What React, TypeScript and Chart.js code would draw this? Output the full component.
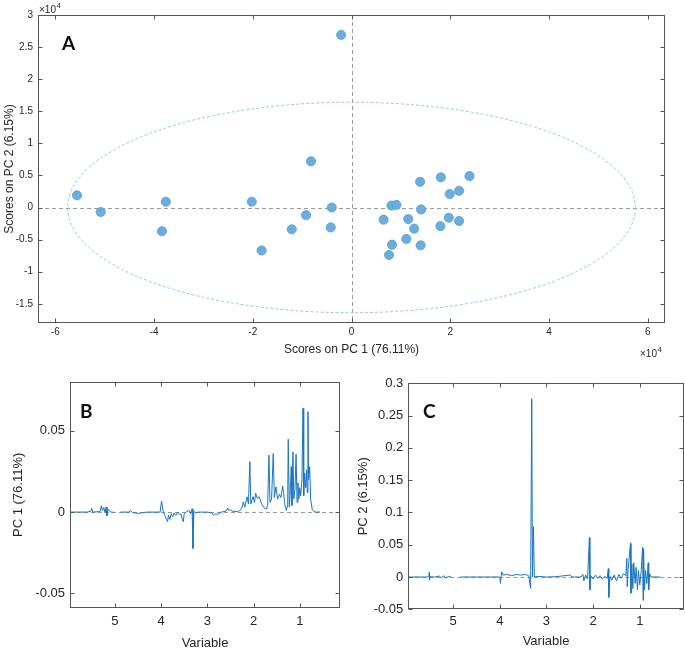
import React, { useEffect, useRef } from "react";
import { Chart, registerables } from "chart.js";
Chart.register(...registerables);

// ---------- Panel A: PCA scores (x 10^4) ----------
const SCORE_PC1 = [-0.21, -5.56, -5.08, -3.76, -3.84, -2.02, -1.82, -1.21, -0.92, -0.82, -0.40, -0.42, 1.39, 1.81, 2.39, 1.99, 2.18, 0.81, 0.91, 1.41, 0.65, 1.15, 1.27, 1.97, 2.18, 1.80, 1.11, 0.82, 1.40, 0.76];
const SCORE_PC2 = [2.69, 0.19, -0.07, 0.09, -0.37, 0.09, -0.67, -0.34, -0.12, 0.72, 0.0, -0.31, 0.40, 0.47, 0.49, 0.21, 0.26, 0.03, 0.04, -0.03, -0.19, -0.18, -0.33, -0.16, -0.21, -0.29, -0.49, -0.58, -0.59, -0.74];
const ELLIPSE_SEMI_PC1 = 5.75;
const ELLIPSE_SEMI_PC2 = 1.64;

// ---------- Panel B: PC1 loadings [variable, loading] ----------
const PC1_LOADINGS: [number, number | null][] = [
  [5.96, 0], [5.6, 0], [5.52, 0.0005], [5.5, 0.0023], [5.48, 0], [5.32, 0.0003], [5.29, 0.0039], [5.27, 0.001],
  [5.24, 0.0028], [5.21, -0.0005], [5.19, 0.003], [5.17, -0.0023], [5.15, 0.0015], [5.12, 0.0012], [5.09, 0], [5.04, 0],
  [4.96, null], [4.88, 0], [4.7, 0], [4.66, 0.0008], [4.62, -0.0003], [4.5, -0.0008], [4.4, -0.0004], [4.3, 0],
  [4.02, 0], [3.99, 0.0068], [3.96, 0.001], [3.92, -0.002], [3.88, -0.0045], [3.86, -0.006], [3.84, -0.002], [3.81, -0.0045],
  [3.78, -0.001], [3.75, -0.003], [3.72, -0.0005], [3.68, -0.002], [3.64, 0], [3.6, -0.0015], [3.57, -0.001], [3.54, -0.0045],
  [3.52, -0.006], [3.5, -0.001], [3.46, 0], [3.4, 0.001], [3.36, -0.001], [3.33, 0.002], [3.31, -0.0224], [3.29, 0.0005],
  [3.26, -0.0005], [3.2, 0], [3.0, 0], [2.9, -0.0005], [2.86, -0.002], [2.82, -0.001], [2.78, -0.0015], [2.7, 0],
  [2.6, 0.0005], [2.56, 0.0025], [2.54, 0.001], [2.5, 0.0015], [2.46, 0.0005], [2.4, 0.0005], [2.34, 0.0002], [2.3, 0.001],
  [2.26, 0.002], [2.22, 0.0063], [2.19, 0.003], [2.14, 0.0094], [2.11, 0.005], [2.08, 0.031], [2.06, 0.005], [2.01, 0.0095],
  [1.98, 0.006], [1.955, 0.0115], [1.92, 0.0085], [1.88, 0.0095], [1.825, 0.005], [1.77, 0.0025], [1.72, 0.002], [1.695, 0.004],
  [1.667, 0.035], [1.645, 0.006], [1.61, 0.008], [1.574, 0.036], [1.55, 0.009], [1.515, 0.0155], [1.48, 0.008], [1.44, 0.011],
  [1.407, 0.009], [1.37, 0.016], [1.35, 0.012], [1.32, 0.004], [1.29, 0.001], [1.262, 0.0045], [1.25, 0.0448], [1.227, 0.003],
  [1.21, 0.01], [1.184, 0.028], [1.17, 0.004], [1.147, 0.037], [1.13, 0.008], [1.104, 0.014], [1.08, 0.0357], [1.06, 0.006],
  [1.04, 0.018], [1.02, 0.008], [1.0, 0.015], [0.98, 0.01], [0.953, 0.02], [0.93, 0.0638], [0.915, 0.01], [0.894, 0.024],
  [0.87, 0.015], [0.85, 0.026], [0.838, 0.012], [0.823, 0.0618], [0.81, 0.02], [0.786, 0.028], [0.765, 0.008], [0.73, 0.0015],
  [0.67, 0], [0.56, 0],
];

// ---------- Panel C: PC2 loadings [variable, loading] ----------
const PC2_LOADINGS: [number, number | null][] = [
  [5.96, 0], [5.55, 0], [5.52, 0.001], [5.51, 0.0073], [5.505, -0.0046], [5.49, 0.0005], [5.4, 0], [5.3, 0.0015],
  [5.25, -0.001], [5.2, 0.002], [5.15, -0.0015], [5.1, 0.001], [5.04, 0], [4.96, null], [4.85, 0], [4.5, 0],
  [4.1, 0], [4.0, 0], [3.985, -0.0098], [3.96, 0.008], [3.93, 0.003], [3.85, 0.004], [3.75, 0.002], [3.65, 0.004],
  [3.55, 0.003], [3.45, 0.004], [3.38, 0.002], [3.34, -0.0176], [3.315, 0.276], [3.3, 0], [3.28, 0.078], [3.26, 0],
  [3.2, 0.001], [3.0, 0], [2.8, 0.0005], [2.5, 0.003], [2.45, 0], [2.26, 0], [2.22, 0.004], [2.2, -0.006],
  [2.16, 0.003], [2.12, -0.003], [2.08, 0.061], [2.07, -0.02], [2.05, 0.002], [2.0, -0.003], [1.95, 0.003], [1.9, -0.002],
  [1.85, 0.002], [1.8, -0.003], [1.75, 0.001], [1.7, -0.002], [1.675, 0.013], [1.665, -0.0315], [1.64, 0.001], [1.6, -0.005],
  [1.55, 0.003], [1.5, -0.006], [1.45, 0.004], [1.4, -0.002], [1.35, 0.005], [1.3, 0.002], [1.28, 0.029], [1.27, -0.015],
  [1.25, 0.012], [1.2, 0.052], [1.19, -0.025], [1.17, 0.02], [1.15, -0.018], [1.13, 0.022], [1.1, -0.01], [1.08, 0.015],
  [1.05, -0.02], [1.03, 0.01], [1.0, -0.012], [0.97, 0.01], [0.94, 0.046], [0.93, -0.036], [0.92, 0.044], [0.9, -0.02],
  [0.88, 0.01], [0.85, -0.01], [0.82, 0.022], [0.81, -0.02], [0.79, 0.005], [0.76, 0], [0.56, 0],
];

const FONT = "'Liberation Sans', Arial, Helvetica, sans-serif";
const LETTER_FONT = "bold 19px Lato, 'Open Sans', sans-serif";
const TEXT = "#262626";
const FRAME = "#555555";
const ZERO = "#9a9a9a";
const LINE = "#1b75c2";

type Deco = {
  id: string;
  zeroX?: boolean;
  ellipse?: boolean;
  letter: string;
  letterX: number;
  letterY: number;
  expTop?: [number, number];
  expBottom?: [number, number];
};

function drawExp(ctx: CanvasRenderingContext2D, x: number, y: number) {
  ctx.fillStyle = TEXT;
  ctx.textAlign = "left";
  ctx.textBaseline = "alphabetic";
  ctx.font = `10px ${FONT}`;
  ctx.fillText("×10", x, y);
  const w = ctx.measureText("×10").width;
  ctx.font = `8px ${FONT}`;
  ctx.fillText("4", x + w + 0.5, y - 5);
}

function decoPlugin(d: Deco) {
  return {
    id: d.id,
    beforeDatasetsDraw(chart: any) {
      const { ctx, chartArea: a, scales } = chart;
      ctx.save();
      ctx.beginPath();
      ctx.rect(a.left, a.top, a.right - a.left, a.bottom - a.top);
      ctx.clip();
      ctx.strokeStyle = ZERO;
      ctx.lineWidth = 1;
      ctx.setLineDash([4, 3]);
      const py = Math.round(scales.y.getPixelForValue(0)) + 0.5;
      ctx.beginPath();
      ctx.moveTo(a.left, py);
      ctx.lineTo(a.right, py);
      ctx.stroke();
      if (d.zeroX) {
        const px = Math.round(scales.x.getPixelForValue(0)) + 0.5;
        ctx.beginPath();
        ctx.moveTo(px, a.top);
        ctx.lineTo(px, a.bottom);
        ctx.stroke();
      }
      if (d.ellipse) {
        const cx = scales.x.getPixelForValue(0);
        const cy = scales.y.getPixelForValue(0);
        const rx = scales.x.getPixelForValue(ELLIPSE_SEMI_PC1) - cx;
        const ry = cy - scales.y.getPixelForValue(ELLIPSE_SEMI_PC2);
        ctx.strokeStyle = "#8ccaee";
        ctx.setLineDash([3, 2]);
        ctx.beginPath();
        ctx.ellipse(cx, cy, rx, ry, 0, 0, Math.PI * 2);
        ctx.stroke();
      }
      ctx.restore();
    },
    afterDraw(chart: any) {
      const { ctx, chartArea: a, scales } = chart;
      ctx.save();
      ctx.strokeStyle = FRAME;
      ctx.lineWidth = 1;
      const L = Math.round(a.left) + 0.5;
      const R = Math.round(a.right) - 0.5;
      const T = Math.round(a.top) + 0.5;
      const B = Math.round(a.bottom) - 0.5;
      ctx.strokeRect(L, T, R - L, B - T);
      const tl = 4;
      ctx.beginPath();
      for (const t of scales.x.ticks) {
        const px = Math.round(scales.x.getPixelForValue(t.value)) + 0.5;
        ctx.moveTo(px, B);
        ctx.lineTo(px, B - tl);
        ctx.moveTo(px, T);
        ctx.lineTo(px, T + tl);
      }
      for (const t of scales.y.ticks) {
        const py = Math.round(scales.y.getPixelForValue(t.value)) + 0.5;
        ctx.moveTo(L, py);
        ctx.lineTo(L + tl, py);
        ctx.moveTo(R, py);
        ctx.lineTo(R - tl, py);
      }
      ctx.stroke();
      ctx.fillStyle = "#111111";
      ctx.font = LETTER_FONT;
      ctx.textAlign = "left";
      ctx.textBaseline = "alphabetic";
      ctx.fillText(d.letter, d.letterX, d.letterY);
      if (d.expTop) drawExp(ctx, d.expTop[0], d.expTop[1]);
      if (d.expBottom) drawExp(ctx, d.expBottom[0], d.expBottom[1]);
      ctx.restore();
    },
  };
}

const fmt = (v: number) => String(Math.round(v * 1000) / 1000);

function axis(opts: any) {
  const { min, max, step, fontSize, pad, title, titleSize, titlePad, size, isX, reverse } = opts;
  return {
    type: "linear",
    min,
    max,
    reverse: !!reverse,
    grid: { display: false, drawTicks: false, tickLength: 0 },
    border: { display: false },
    ticks: {
      stepSize: step,
      includeBounds: false,
      autoSkip: false,
      maxRotation: 0,
      padding: pad,
      color: TEXT,
      font: { size: fontSize, family: FONT },
      callback: (v: number) => fmt(v),
    },
    title: {
      display: true,
      text: title,
      color: TEXT,
      font: { size: titleSize, family: FONT, lineHeight: 1.1 },
      padding: titlePad,
    },
    afterFit: (s: any) => {
      if (isX) s.height = size;
      else s.width = size;
    },
  };
}

function makeA(canvas: HTMLCanvasElement) {
  return new Chart(canvas, {
    type: "scatter",
    data: {
      datasets: [
        {
          data: SCORE_PC1.map((x, i) => ({ x, y: SCORE_PC2[i] })),
          pointRadius: 4.6,
          pointBackgroundColor: "#6aaede",
          pointBorderColor: "#5a9fd2",
          pointBorderWidth: 0.8,
        },
      ],
    },
    options: {
      responsive: false,
      animation: false,
      layout: { padding: { top: 15, right: 20, left: 0, bottom: 0 } },
      plugins: { legend: { display: false }, tooltip: { enabled: false } },
      scales: {
        x: axis({ min: -6.35, max: 6.35, step: 2, fontSize: 10, pad: 3.5, title: "Scores on PC 1 (76.11%)", titleSize: 12, titlePad: { top: 0, bottom: 6 }, size: 39, isX: true }),
        y: axis({ min: -1.8, max: 3, step: 0.5, fontSize: 10, pad: 5, title: "Scores on PC 2 (6.15%)", titleSize: 12, titlePad: { top: 3, bottom: 0 }, size: 38 }),
      },
    } as any,
    plugins: [decoPlugin({ id: "decoA", zeroX: true, ellipse: true, letter: "A", letterX: 62, letterY: 50, expTop: [39, 13], expBottom: [640, 357] })],
  });
}

function makeLoad(canvas: HTMLCanvasElement, which: "B" | "C") {
  const isB = which === "B";
  const rows = isB ? PC1_LOADINGS : PC2_LOADINGS;
  return new Chart(canvas, {
    type: "line",
    data: {
      datasets: [
        {
          data: rows.map(([x, y]) => ({ x, y })),
          borderColor: LINE,
          borderWidth: 1,
          pointRadius: 0,
          spanGaps: false,
          tension: 0,
        },
      ],
    },
    options: {
      responsive: false,
      animation: false,
      layout: { padding: isB ? { top: 19.7, right: 2, left: 0, bottom: 0 } : { top: 21.3, right: 1.3, left: 0, bottom: 0 } },
      plugins: { legend: { display: false }, tooltip: { enabled: false } },
      scales: {
        x: axis({
          min: isB ? 0.13 : 0.06,
          max: isB ? 5.97 : 5.96,
          step: 1,
          reverse: true,
          fontSize: 13,
          pad: isB ? 6 : 4.6,
          title: "Variable",
          titleSize: 13,
          titlePad: { top: 0, bottom: isB ? 0 : 2 },
          size: isB ? 43 : 41.7,
          isX: true,
        }),
        y: isB
          ? axis({ min: -0.059, max: 0.0802, step: 0.05, fontSize: 13, pad: 5, title: "PC 1 (76.11%)", titleSize: 13, titlePad: { top: 11, bottom: 0 }, size: 70 })
          : axis({ min: -0.05, max: 0.3, step: 0.05, fontSize: 13, pad: 5, title: "PC 2 (6.15%)", titleSize: 13, titlePad: { top: 14, bottom: 0 }, size: 66.3 }),
      },
    } as any,
    plugins: [decoPlugin({ id: "deco" + which, letter: which, letterX: isB ? 80 : 81, letterY: 56 })],
  });
}

function ChartCanvas(props: { make: (c: HTMLCanvasElement) => Chart; left: number; top: number; width: number; height: number }) {
  const ref = useRef<HTMLCanvasElement>(null);
  useEffect(() => {
    const chart = props.make(ref.current as HTMLCanvasElement);
    return () => chart.destroy();
  }, []);
  return (
    <canvas
      ref={ref}
      width={props.width}
      height={props.height}
      style={{ position: "absolute", left: props.left, top: props.top, width: props.width, height: props.height }}
    />
  );
}

export default function App() {
  return (
    <div style={{ position: "absolute", left: 0, top: 0, width: 685, height: 651, background: "#ffffff", overflow: "hidden" }}>
      <ChartCanvas make={makeA} left={0} top={0} width={685} height={362} />
      <ChartCanvas make={(c) => makeLoad(c, "B")} left={0} top={362} width={342} height={289} />
      <ChartCanvas make={(c) => makeLoad(c, "C")} left={342} top={362} width={343} height={289} />
    </div>
  );
}
